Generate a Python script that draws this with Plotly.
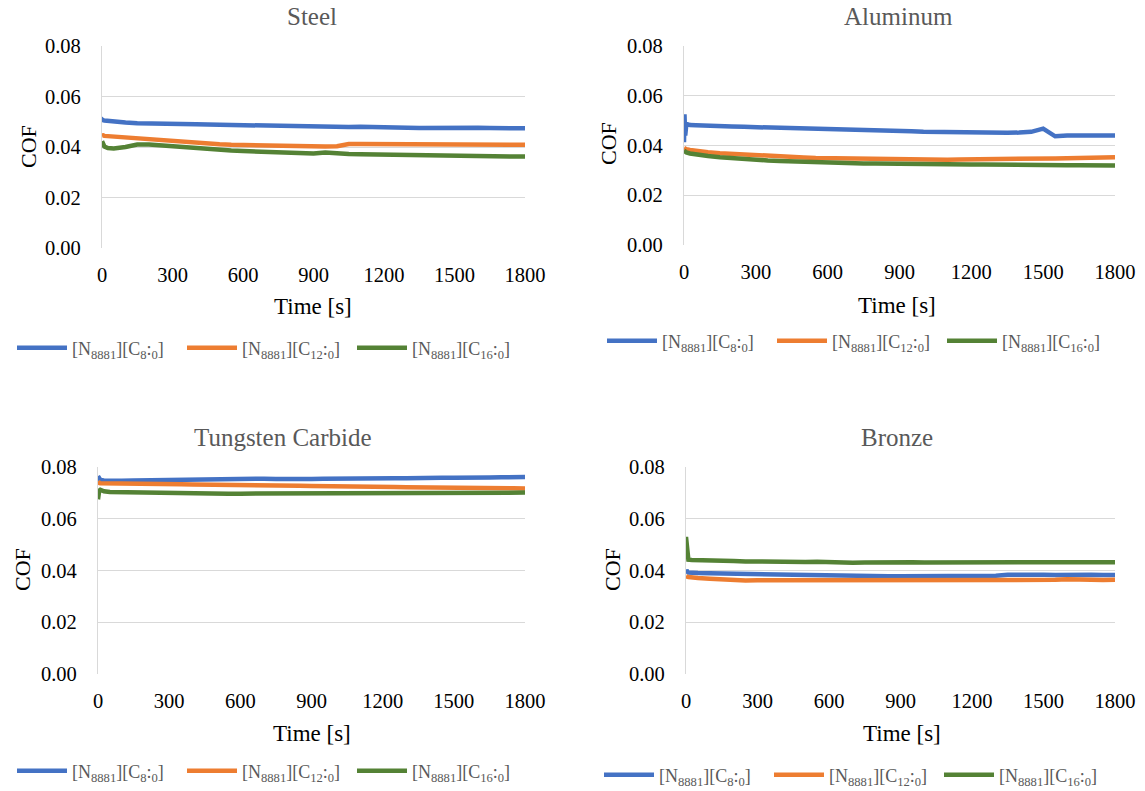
import plotly.graph_objects as go

time_s = [0, 2, 5, 10, 25, 50, 100, 150, 200, 250, 300, 350, 400, 450, 500, 550, 600, 650, 700, 750,
          800, 850, 900, 950, 1000, 1050, 1100, 1150, 1200, 1250, 1300, 1350, 1400, 1450, 1500, 1550,
          1600, 1650, 1700, 1750, 1800]

series_names = ["[N<sub>8881</sub>][C<sub>8</sub>:<sub>0</sub>]",
                "[N<sub>8881</sub>][C<sub>12</sub>:<sub>0</sub>]",
                "[N<sub>8881</sub>][C<sub>16</sub>:<sub>0</sub>]"]
x_ticks = [0, 300, 600, 900, 1200, 1500, 1800]
y_ticks = [0.00, 0.02, 0.04, 0.06, 0.08]
panel_titles = ["Steel", "Aluminum", "Tungsten Carbide", "Bronze"]

steel_c8 = [0.0505, 0.0508, 0.0506, 0.0505, 0.0503, 0.0500, 0.0497, 0.0494, 0.0494, 0.0492, 0.0493,
            0.0491, 0.0490, 0.0489, 0.0488, 0.0486, 0.0485, 0.0486, 0.0484, 0.0483, 0.0483, 0.0481,
            0.0480, 0.0481, 0.0481, 0.0479, 0.0480, 0.0478, 0.0477, 0.0476, 0.0476, 0.0475, 0.0476,
            0.0476, 0.0477, 0.0476, 0.0476, 0.0475, 0.0476, 0.0475, 0.0474]
steel_c12 = [0.0445, 0.0447, 0.0446, 0.0444, 0.0443, 0.0440, 0.0437, 0.0434, 0.0428, 0.0424, 0.0421,
             0.0418, 0.0415, 0.0413, 0.0411, 0.0409, 0.0408, 0.0406, 0.0405, 0.0403, 0.0401, 0.0400,
             0.0399, 0.0402, 0.0403, 0.0412, 0.0412, 0.0412, 0.0411, 0.0411, 0.0411, 0.0410, 0.0411,
             0.0411, 0.0412, 0.0412, 0.0413, 0.0412, 0.0411, 0.0410, 0.0409]
steel_c16 = [0.0423, 0.0416, 0.0410, 0.0402, 0.0396, 0.0394, 0.0400, 0.0410, 0.0410, 0.0406, 0.0402,
             0.0399, 0.0395, 0.0392, 0.0389, 0.0386, 0.0384, 0.0382, 0.0381, 0.0379, 0.0377, 0.0375,
             0.0374, 0.0378, 0.0373, 0.0372, 0.0371, 0.0370, 0.0369, 0.0368, 0.0367, 0.0366, 0.0366,
             0.0365, 0.0364, 0.0364, 0.0363, 0.0363, 0.0363, 0.0362, 0.0362]

alu_c8 = [0.0413, 0.0525, 0.0440, 0.0487, 0.0482, 0.0481, 0.0478, 0.0477, 0.0476, 0.0475, 0.0474,
          0.0473, 0.0471, 0.0470, 0.0467, 0.0465, 0.0466, 0.0464, 0.0462, 0.0461, 0.0460, 0.0459,
          0.0458, 0.0457, 0.0455, 0.0454, 0.0453, 0.0452, 0.0452, 0.0451, 0.0452, 0.0451, 0.0452,
          0.0455, 0.0468, 0.0437, 0.0440, 0.0441, 0.0442, 0.0441, 0.0440]
alu_c12 = [0.0390, 0.0388, 0.0386, 0.0385, 0.0382, 0.0378, 0.0373, 0.0369, 0.0366, 0.0363, 0.0361,
           0.0358, 0.0356, 0.0354, 0.0352, 0.0350, 0.0349, 0.0348, 0.0347, 0.0346, 0.0345, 0.0345,
           0.0344, 0.0344, 0.0343, 0.0343, 0.0343, 0.0344, 0.0344, 0.0345, 0.0346, 0.0346, 0.0347,
           0.0347, 0.0348, 0.0348, 0.0349, 0.0350, 0.0350, 0.0352, 0.0353]
alu_c16 = [0.0380, 0.0377, 0.0375, 0.0372, 0.0368, 0.0364, 0.0358, 0.0353, 0.0349, 0.0346, 0.0343,
           0.0340, 0.0338, 0.0336, 0.0334, 0.0332, 0.0331, 0.0330, 0.0329, 0.0328, 0.0328, 0.0327,
           0.0327, 0.0326, 0.0326, 0.0325, 0.0325, 0.0324, 0.0324, 0.0324, 0.0323, 0.0323, 0.0323,
           0.0322, 0.0322, 0.0322, 0.0321, 0.0321, 0.0321, 0.0320, 0.0320]

wc_c8 = [0.0765, 0.0760, 0.0754, 0.0750, 0.0748, 0.0747, 0.0747, 0.0748, 0.0749, 0.0750, 0.0751,
         0.0750, 0.0750, 0.0751, 0.0752, 0.0753, 0.0753, 0.0754, 0.0755, 0.0754, 0.0753, 0.0753,
         0.0754, 0.0755, 0.0756, 0.0756, 0.0755, 0.0755, 0.0756, 0.0757, 0.0757, 0.0756, 0.0757,
         0.0758, 0.0758, 0.0757, 0.0758, 0.0759, 0.0760, 0.0760, 0.0761]
wc_c12 = [0.0745, 0.0740, 0.0738, 0.0737, 0.0737, 0.0737, 0.0736, 0.0736, 0.0735, 0.0734, 0.0734,
          0.0733, 0.0732, 0.0732, 0.0731, 0.0731, 0.0730, 0.0730, 0.0729, 0.0729, 0.0728, 0.0728,
          0.0727, 0.0727, 0.0726, 0.0725, 0.0725, 0.0724, 0.0724, 0.0723, 0.0722, 0.0722, 0.0721,
          0.0721, 0.0720, 0.0720, 0.0719, 0.0719, 0.0718, 0.0718, 0.0717]
wc_c16 = [0.0675, 0.0690, 0.0708, 0.0712, 0.0706, 0.0703, 0.0702, 0.0701, 0.0700, 0.0700, 0.0700,
          0.0699, 0.0699, 0.0698, 0.0698, 0.0697, 0.0697, 0.0697, 0.0698, 0.0697, 0.0697, 0.0698,
          0.0698, 0.0698, 0.0699, 0.0698, 0.0698, 0.0699, 0.0699, 0.0699, 0.0698, 0.0698, 0.0699,
          0.0699, 0.0700, 0.0700, 0.0700, 0.0700, 0.0700, 0.0701, 0.0701]

bronze_c8 = [0.0395, 0.0402, 0.0396, 0.0392, 0.0390, 0.0390, 0.0389, 0.0388, 0.0388, 0.0387, 0.0386,
             0.0385, 0.0384, 0.0383, 0.0382, 0.0381, 0.0381, 0.0380, 0.0380, 0.0379, 0.0379, 0.0378,
             0.0378, 0.0378, 0.0377, 0.0377, 0.0377, 0.0376, 0.0376, 0.0377, 0.0380, 0.0384, 0.0385,
             0.0384, 0.0384, 0.0383, 0.0384, 0.0386, 0.0384, 0.0383, 0.0383]
bronze_c12 = [0.0378, 0.0375, 0.0376, 0.0375, 0.0373, 0.0371, 0.0368, 0.0365, 0.0362, 0.0361, 0.0362,
              0.0362, 0.0361, 0.0362, 0.0363, 0.0362, 0.0362, 0.0361, 0.0361, 0.0362, 0.0362, 0.0362,
              0.0362, 0.0361, 0.0362, 0.0362, 0.0362, 0.0362, 0.0363, 0.0362, 0.0362, 0.0363, 0.0363,
              0.0363, 0.0363, 0.0364, 0.0366, 0.0364, 0.0363, 0.0363, 0.0364]
bronze_c16 = [0.0530, 0.0500, 0.0450, 0.0442, 0.0441, 0.0441, 0.0440, 0.0439, 0.0437, 0.0435, 0.0434,
              0.0433, 0.0433, 0.0432, 0.0433, 0.0434, 0.0432, 0.0429, 0.0430, 0.0431, 0.0432, 0.0432,
              0.0433, 0.0432, 0.0431, 0.0431, 0.0430, 0.0431, 0.0432, 0.0431, 0.0431, 0.0432, 0.0432,
              0.0431, 0.0431, 0.0431, 0.0430, 0.0431, 0.0431, 0.0430, 0.0432]

panels_data = [
    [steel_c8, steel_c12, steel_c16],
    [alu_c8, alu_c12, alu_c16],
    [wc_c8, wc_c12, wc_c16],
    [bronze_c8, bronze_c12, bronze_c16],
]
colors = ["#4472C4", "#ED7D31", "#548235"]

W, H = 1145, 791
# pixel geometry of each plot area: (x0, x1, ytop, ybottom)
areas = [(102, 525, 46, 248), (684, 1115, 46, 245), (98, 525, 467, 674), (686, 1115, 467, 674)]
title_pos = [(312, 16), (898, 17), (283, 437), (897, 437)]
cof_pos = [(28, 147), (608, 144), (22, 570), (612, 570)]
time_pos = [(313, 306), (897, 305), (312, 733), (902, 733)]
legend_pos = [(12, 348), (602, 341), (12, 771), (599, 775)]

FONT = "Liberation Serif"
fig = go.Figure()
layout = dict(width=W, height=H, margin=dict(l=0, r=0, t=0, b=0, autoexpand=False),
              paper_bgcolor="white", plot_bgcolor="white", annotations=[])

for i, (pdata, area) in enumerate(zip(panels_data, areas)):
    n = i + 1
    xa = "x" if n == 1 else f"x{n}"
    ya = "y" if n == 1 else f"y{n}"
    lg = "legend" if n == 1 else f"legend{n}"
    for j, vals in enumerate(pdata):
        fig.add_trace(go.Scatter(x=time_s, y=vals, mode="lines", name=series_names[j],
                                 line=dict(color=colors[j], width=4.5),
                                 xaxis=xa, yaxis=ya, legend=lg))
    x0, x1, yt, yb = area
    xkey = "xaxis" if n == 1 else f"xaxis{n}"
    ykey = "yaxis" if n == 1 else f"yaxis{n}"
    layout[xkey] = dict(domain=[x0 / W, x1 / W], range=[0, 1800], anchor=ya,
                        tickvals=x_ticks, ticktext=[str(v) for v in x_ticks],
                        showgrid=False, zeroline=False, showline=False, automargin=False,
                        ticks="outside", ticklen=8, tickcolor="rgba(0,0,0,0)",
                        tickfont=dict(family=FONT, size=20.5, color="#000000"))
    layout[ykey] = dict(domain=[1 - yb / H, 1 - yt / H], range=[0, 0.08], anchor=xa,
                        tickvals=y_ticks, ticktext=[f"{v:.2f}" for v in y_ticks],
                        showgrid=True, gridcolor="#D9D9D9", gridwidth=1.3, automargin=False,
                        zeroline=False, showline=True, linecolor="#D9D9D9", linewidth=1.3,
                        ticks="outside", ticklen=16, tickcolor="rgba(0,0,0,0)",
                        tickfont=dict(family=FONT, size=20.5, color="#000000"))
    tx, ty = title_pos[i]
    layout["annotations"].append(dict(x=tx / W, y=1 - ty / H, xref="paper", yref="paper",
                                      text=panel_titles[i], showarrow=False,
                                      xanchor="center", yanchor="middle",
                                      font=dict(family=FONT, size=25, color="#595959")))
    cx, cy = cof_pos[i]
    layout["annotations"].append(dict(x=cx / W, y=1 - cy / H, xref="paper", yref="paper",
                                      text="COF", textangle=-90, showarrow=False,
                                      xanchor="center", yanchor="middle",
                                      font=dict(family=FONT, size=22, color="#000000")))
    sx, sy = time_pos[i]
    layout["annotations"].append(dict(x=sx / W, y=1 - sy / H, xref="paper", yref="paper",
                                      text="Time [s]", showarrow=False,
                                      xanchor="center", yanchor="middle",
                                      font=dict(family=FONT, size=23, color="#000000")))
    lx, ly = legend_pos[i]
    layout[lg] = dict(x=lx / W, y=1 - ly / H, xanchor="left", yanchor="middle",
                      orientation="h", bgcolor="rgba(0,0,0,0)",
                      entrywidth=105, entrywidthmode="pixels", itemwidth=50,
                      font=dict(family=FONT, size=18, color="#595959"))

fig.update_layout(**layout)
fig.write_html("out.html", config={"displayModeBar": False},
               post_script="document.body.style.margin='0px';")
